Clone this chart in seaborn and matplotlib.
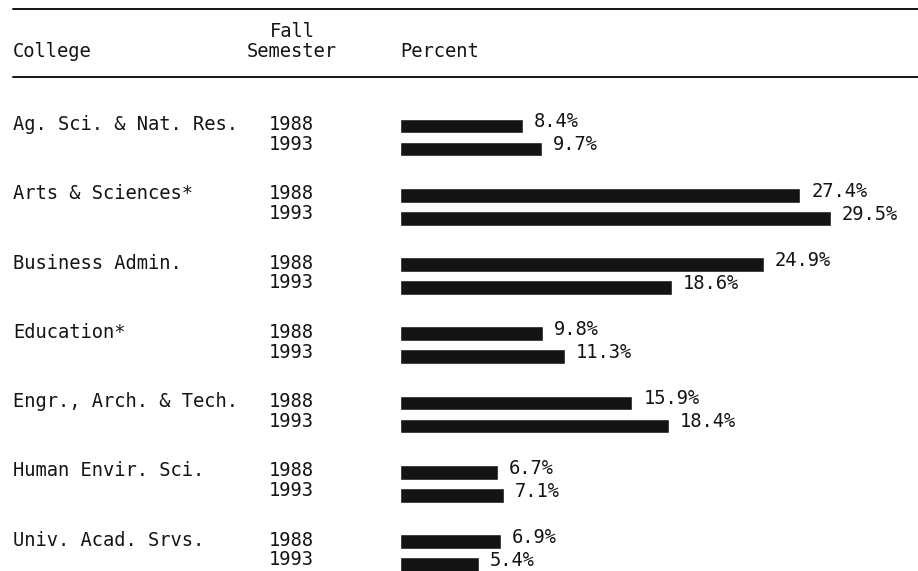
import pandas as pd
import matplotlib
matplotlib.use('Agg')
import matplotlib.pyplot as plt
import seaborn as sns
from matplotlib.lines import Line2D
from matplotlib.transforms import blended_transform_factory

# Chart data
colleges = ['Ag. Sci. & Nat. Res.', 'Arts & Sciences*', 'Business Admin.',
            'Education*', 'Engr., Arch. & Tech.', 'Human Envir. Sci.',
            'Univ. Acad. Srvs.']
years = ['1988', '1993']
pct_1988 = [8.4, 27.4, 24.9, 9.8, 15.9, 6.7, 6.9]
pct_1993 = [9.7, 29.5, 18.6, 11.3, 18.4, 7.1, 5.4]

df = pd.DataFrame({
    'college': colleges * 2,
    'year': [years[0]] * len(colleges) + [years[1]] * len(colleges),
    'percent': pct_1988 + pct_1993,
})

W, H = 918, 571
ink = '#141414'
mono = ['DejaVu Sans Mono']
fs = 13.5

sns.set_style('white')
plt.rcParams['font.family'] = mono

fig = plt.figure(figsize=(W / 100, H / 100), dpi=100)
ax = fig.add_axes([400 / W, 0, 511 / W, 471 / H])

sns.barplot(data=df, y='college', x='percent', hue='year', order=colleges,
            hue_order=years, orient='h', width=0.664, gap=0.36,
            palette=[ink, ink], saturation=1, legend=False, ax=ax)

ax.set_xlim(0, 35)
ax.set_ylim(6.26, -0.542)
ax.axis('off')

# value labels at bar ends
for p in ax.patches:
    w = p.get_width()
    yc = p.get_y() + p.get_height() / 2
    ax.annotate(f'{w:.1f}%', xy=(w, yc), xytext=(8, -1), textcoords='offset points',
                ha='left', va='baseline', fontsize=fs, color=ink,
                family=mono, annotation_clip=False)

# row labels (college + semester)
tr = blended_transform_factory(fig.transFigure, ax.transData)
for i, name in enumerate(colleges):
    ax.text(13 / W, i - 0.108, name, transform=tr, ha='left', va='baseline',
            fontsize=fs, color=ink, clip_on=False)
    ax.text(269 / W, i - 0.108, years[0], transform=tr, ha='left', va='baseline',
            fontsize=fs, color=ink, clip_on=False)
    ax.text(269 / W, i + 0.18, years[1], transform=tr, ha='left', va='baseline',
            fontsize=fs, color=ink, clip_on=False)

# header
def fy(px):
    return 1 - px / H

fig.text(13 / W, fy(57), 'College', ha='left', va='baseline', fontsize=fs, color=ink)
fig.text(292 / W, fy(37), 'Fall', ha='center', va='baseline', fontsize=fs, color=ink)
fig.text(292 / W, fy(57), 'Semester', ha='center', va='baseline', fontsize=fs, color=ink)
fig.text(400 / W, fy(57), 'Percent', ha='left', va='baseline', fontsize=fs, color=ink)

for ypx in (9, 77):
    fig.add_artist(Line2D([13 / W, 1], [fy(ypx), fy(ypx)], transform=fig.transFigure,
                          color=ink, lw=1.4))

fig.savefig('out.png', dpi=100)
plt.close('all')
